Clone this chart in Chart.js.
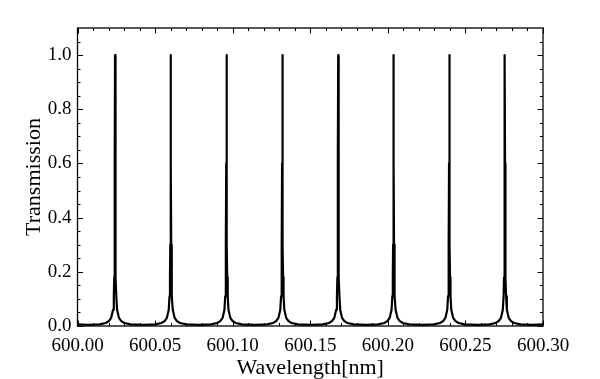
<!DOCTYPE html>
<html><head><meta charset="utf-8">
<script src="https://cdn.jsdelivr.net/npm/chart.js@4/dist/chart.umd.min.js"></script>
<style>html,body{margin:0;padding:0;background:#fff}#wrap{width:600px;height:379px}</style>
</head><body><div id="wrap"><canvas id="c" width="600" height="379"></canvas></div>
<script>
// Peak centre wavelengths (nm)
const peakCenters = [600.0242, 600.0601, 600.0960, 600.1320, 600.1680, 600.2037, 600.2396, 600.2754];
// Shape of one transmission peak: offset from centre (nm) and transmission
const profileOffsets = [-0.0175, -0.010, -0.006, -0.004, -0.0025, -0.0013, -0.0008, -0.0005, -0.0003, -0.00015, 0, 0.00015, 0.0003, 0.0005, 0.0008, 0.0013, 0.0025, 0.004, 0.006, 0.010];
const profileValues  = [0.004, 0.006, 0.011, 0.018, 0.030, 0.060, 0.11, 0.18, 0.30, 0.60, 1.0, 0.60, 0.30, 0.18, 0.11, 0.060, 0.030, 0.018, 0.011, 0.006];
// End points of the trace
const startPoint = [600.00, 0.006];
const tailOffset = 0.0175, tailValue = 0.004;
const endPoint = [600.30, 0.006];
// Axis ticks
const xMajorTicks = [600.00, 600.05, 600.10, 600.15, 600.20, 600.25, 600.30];
const xMinorTicks = [600.01, 600.02, 600.03, 600.04, 600.06, 600.07, 600.08, 600.09, 600.11, 600.12, 600.13, 600.14, 600.16, 600.17, 600.18, 600.19, 600.21, 600.22, 600.23, 600.24, 600.26, 600.27, 600.28, 600.29];
const yMajorTicks = [0.0, 0.2, 0.4, 0.6, 0.8, 1.0];
const yMinorTicks = [0.05, 0.1, 0.15, 0.25, 0.3, 0.35, 0.45, 0.5, 0.55, 0.65, 0.7, 0.75, 0.85, 0.9, 0.95, 1.05];
const xLabel = 'Wavelength[nm]';
const yLabel = 'Transmission';

const points = [{x: startPoint[0], y: startPoint[1]}];
peakCenters.forEach(c => {
  profileOffsets.forEach((o, i) => points.push({x: c + o, y: profileValues[i]}));
});
points.push({x: peakCenters[peakCenters.length - 1] + tailOffset, y: tailValue});
points.push({x: endPoint[0], y: endPoint[1]});

const serif = '"Liberation Serif", "Times New Roman", serif';

const frameTicks = {
  id: 'frameTicks',
  afterDatasetsDraw(chart) {
    const {ctx, chartArea: a, scales: {x, y}} = chart;
    ctx.save();
    ctx.strokeStyle = '#000';
    ctx.lineWidth = 1;
    const major = 5.5, minor = 3;
    const xt = (v, len) => {
      const p = Math.round(x.getPixelForValue(v)) + 0.5;
      ctx.beginPath();
      ctx.moveTo(p, a.bottom); ctx.lineTo(p, a.bottom - len);
      ctx.moveTo(p, a.top); ctx.lineTo(p, a.top + len);
      ctx.stroke();
    };
    const yt = (v, len) => {
      const p = Math.round(y.getPixelForValue(v)) + 0.5;
      ctx.beginPath();
      ctx.moveTo(a.left, p); ctx.lineTo(a.left + len, p);
      ctx.moveTo(a.right, p); ctx.lineTo(a.right - len, p);
      ctx.stroke();
    };
    xMajorTicks.forEach(v => xt(v, major));
    xMinorTicks.forEach(v => xt(v, minor));
    yMajorTicks.forEach(v => yt(v, major));
    yMinorTicks.forEach(v => yt(v, minor));
    ctx.lineWidth = 1.3;
    ctx.strokeRect(a.left, a.top, a.right - a.left, a.bottom - a.top);
    ctx.restore();
  }
};

new Chart(document.getElementById('c'), {
  type: 'line',
  data: {
    datasets: [{
      data: points,
      borderColor: '#000',
      borderWidth: 2.2,
      borderJoinStyle: 'round',
      borderCapStyle: 'round',
      pointRadius: 0,
      tension: 0,
      fill: false
    }]
  },
  options: {
    responsive: false,
    devicePixelRatio: 1,
    animation: false,
    parsing: false,
    layout: {padding: {top: 28, right: 57, left: 0, bottom: 0}},
    plugins: {legend: {display: false}, tooltip: {enabled: false}},
    scales: {
      x: {
        type: 'linear', min: 600.00, max: 600.30,
        grid: {display: false, drawTicks: false},
        border: {display: false},
        afterFit: s => { s.height = 53; },
        afterBuildTicks: s => { s.ticks = xMajorTicks.map(v => ({value: v})); },
        ticks: {
          color: '#000', padding: 9, maxRotation: 0, autoSkip: false,
          font: {family: serif, size: 19},
          callback: v => Number(v).toFixed(2)
        },
        title: {display: true, text: xLabel, color: '#000', font: {family: serif, size: 22, lineHeight: 1}, padding: {top: 0, bottom: 0}}
      },
      y: {
        type: 'linear', min: 0, max: 1.1,
        grid: {display: false, drawTicks: false},
        border: {display: false},
        afterFit: s => { s.width = 77.5; },
        afterBuildTicks: s => { s.ticks = yMajorTicks.map(v => ({value: v})); },
        ticks: {
          color: '#000', padding: 6, autoSkip: false,
          font: {family: serif, size: 19},
          callback: v => Number(v).toFixed(1)
        },
        title: {display: true, text: yLabel, color: '#000', font: {family: serif, size: 22, lineHeight: 1}, padding: {top: 23, bottom: 0}}
      }
    }
  },
  plugins: [frameTicks]
});
</script>
</body></html>
